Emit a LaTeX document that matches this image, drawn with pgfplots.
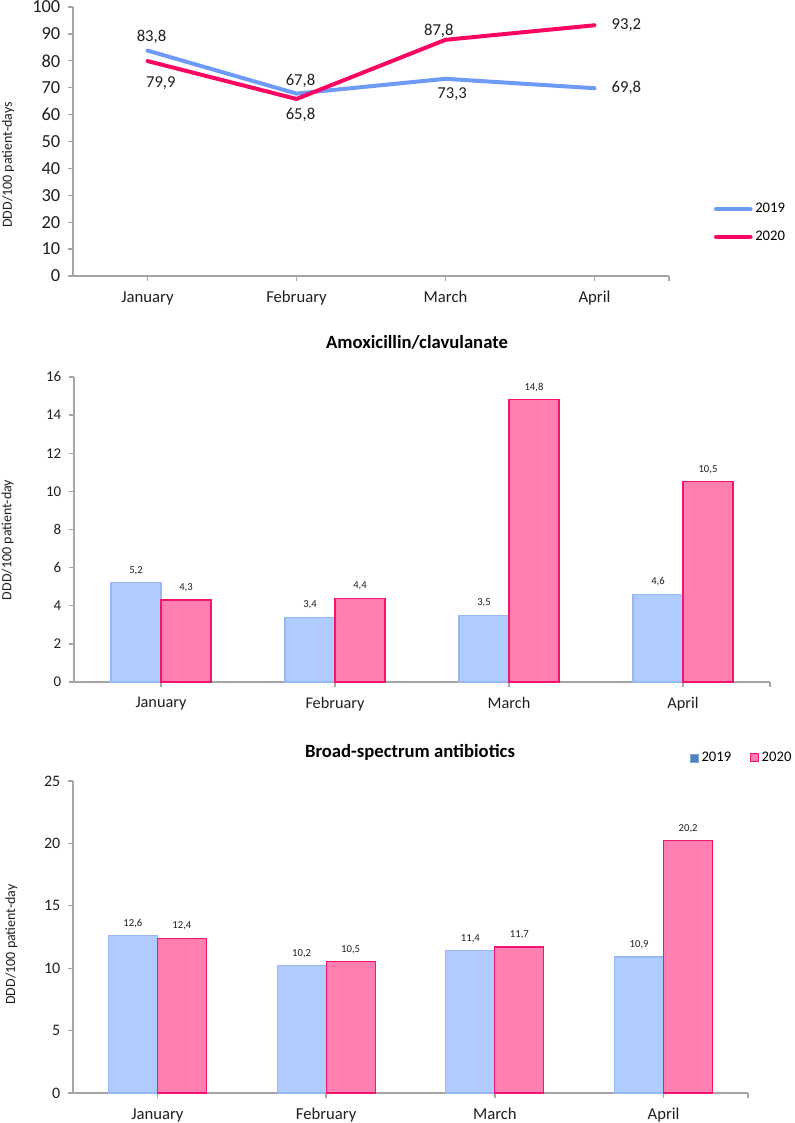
\documentclass[border=0pt]{standalone}
\usepackage{fontspec}
\setmainfont{Carlito}
\usepackage{pgfplots}
\pgfplotsset{compat=1.18}
\definecolor{line19}{RGB}{110,155,245}
\definecolor{line20}{RGB}{250,5,100}
\definecolor{fill19}{RGB}{176,204,255}
\definecolor{draw19}{RGB}{150,185,245}
\definecolor{fill20}{RGB}{255,128,176}
\definecolor{draw20}{RGB}{245,20,110}
\definecolor{leg19}{RGB}{79,129,189}
\definecolor{axgray}{RGB}{166,166,166}
\newcommand{\fs}[1]{\fontsize{#1}{#1}\selectfont}

\pgfplotsset{
  months/.style={
    scale only axis, anchor=south west, clip=false,
    axis lines=left,
    axis line style={-, draw=axgray, line width=1pt},
    tick style={draw=axgray, line width=1pt},
    tick align=outside, major tick length=4pt,
    xmin=-0.5, xmax=3.5,
    xtick={0,1,2,3},
    xticklabels={January,February,March,April},
    extra x ticks={3.5}, extra x tick labels={},
    ymin=0,
    tick label style={text=black!88},
    xticklabel style={yshift=-4pt},
    yticklabel style={xshift=-2pt},
    /pgf/number format/assume math mode=true,
    every axis y label/.style={rotate=90, anchor=center, font=\fs{10.5}, text=black!88},
  },
  barlabels/.style={
    nodes near coords={\pgfmathprintnumber[fixed,fixed zerofill,precision=1,use comma,assume math mode=true]{\pgfplotspointmeta}},
    every node near coord/.append style={font=\fs{8}, text=black!88, anchor=south, yshift=2.5pt},
  },
}

\begin{document}
\begin{tikzpicture}
\path[use as bounding box] (0,0) rectangle (596.25pt,842.25pt);

% total consumption
\begin{axis}[months,
  at={(54.75pt,635.25pt)}, width=447pt, height=201.75pt,
  ymax=100, ytick={0,10,...,100},
  yticklabel style={font=\fs{13.8}},
  xticklabel style={font=\fs{12.5}},
  ylabel={DDD/100 patient-days},
  ylabel style={at={(axis description cs:-0.109,0.413)}},
  nodes near coords={\pgfmathprintnumber[fixed,fixed zerofill,precision=1,use comma,assume math mode=true]{\pgfplotspointmeta}},
  visualization depends on={value \thisrow{a} \as \lanc},
  visualization depends on={value \thisrow{dx} \as \ldx},
  visualization depends on={value \thisrow{dy} \as \ldy},
  every node near coord/.append style={font=\fs{12.5}, text=black!88, anchor=\lanc, xshift=\ldx pt, yshift=\ldy pt},
  legend image code/.code={\draw[#1] (0pt,0pt) -- (26pt,0pt);},
  legend style={at={(axis description cs:1.075,0.197)}, anchor=west, draw=none, fill=none,
    font=\fs{11}, row sep=8pt, inner sep=0pt, cells={anchor=west}},
]
\addplot[line19, line width=3pt, line cap=round, line join=round, mark=none] table {
x y a dx dy
0 83.8 south 3 0
1 67.8 south 3 0
2 73.3 north 5 -2
3 69.8 west 8 0
};
\addplot[line20, line width=3pt, line cap=round, line join=round, mark=none] table {
x y a dx dy
0 79.9 north 10 -7
1 65.8 north 3 -2
2 87.8 south -5 -3
3 93.2 west 8 0
};
\legend{2019,2020}
\end{axis}

% amoxicillin/clavulanate
\node[font=\bfseries\fs{14}, text=black] at (312.75pt,585.75pt) {Amoxicillin/clavulanate};
\begin{axis}[months, barlabels,
  at={(55.5pt,330.75pt)}, width=522pt, height=228.75pt,
  ymax=16, ytick={0,2,...,16},
  yticklabel style={font=\fs{11.2}},
  xticklabel style={font=\fs{12.2}},
  ylabel={DDD/100 patient-day},
  ylabel style={at={(axis description cs:-0.0955,0.466)}},
  ybar=0pt, bar width=37.5pt,
]
\addplot[bar shift=-18.75pt, fill=fill19, draw=draw19, line width=0.8pt] coordinates {(0,5.2) (1,3.4) (2,3.5) (3,4.6)};
\addplot[bar shift=18.75pt, fill=fill20, draw=draw20, line width=0.8pt] coordinates {(0,4.3) (1,4.4) (2,14.8) (3,10.5)};
\end{axis}

% broad-spectrum antibiotics
\node[font=\bfseries\fs{14}, text=black] at (307.5pt,278.25pt) {Broad-spectrum antibiotics};
\begin{axis}[months, barlabels,
  at={(54.75pt,22.5pt)}, width=506.25pt, height=234pt,
  ymax=25, ytick={0,5,...,25},
  yticklabel style={font=\fs{12}},
  xticklabel style={font=\fs{12.5}},
  ylabel={DDD/100 patient-day},
  ylabel style={at={(axis description cs:-0.0914,0.476)}},
  ybar=0pt, bar width=36.75pt,
  legend columns=2,
  legend style={at={(axis description cs:0.914,1.074)}, anchor=west, draw=none, fill=none,
    font=\fs{11}, inner sep=0pt, /tikz/every even column/.append style={column sep=12pt}},
]
\addlegendimage{legend image code/.code={\draw[fill=leg19, draw=leg19!70!white, line width=0.5pt] (0pt,-3pt) rectangle (6pt,3pt);}}
\addlegendimage{legend image code/.code={\draw[fill=fill20, draw=draw20, line width=0.8pt] (0pt,-3pt) rectangle (6pt,3pt);}}
\addplot[forget plot, bar shift=-18.375pt, fill=fill19, draw=draw19, line width=0.8pt] coordinates {(0,12.6) (1,10.2) (2,11.4) (3,10.9)};
\addplot[forget plot, bar shift=18.375pt, fill=fill20, draw=draw20, line width=0.8pt] coordinates {(0,12.4) (1,10.5) (2,11.7) (3,20.2)};
\legend{2019,2020}
\end{axis}
\end{tikzpicture}
\end{document}
